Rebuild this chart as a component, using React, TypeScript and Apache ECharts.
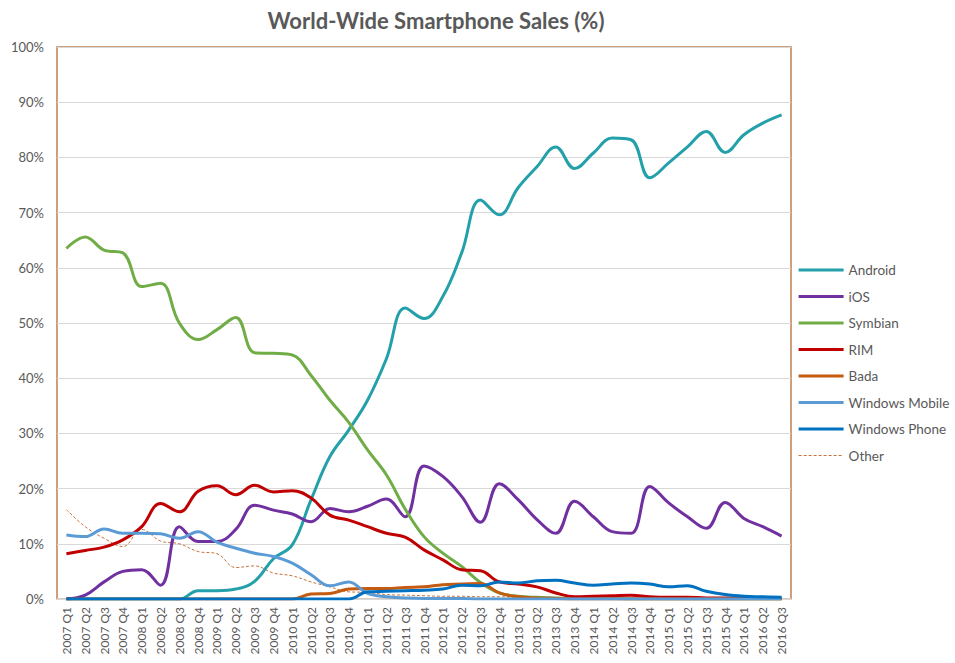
import React, { useEffect, useRef } from "react";
import * as echarts from "echarts";

const categories = [
  "2007 Q1", "2007 Q2", "2007 Q3", "2007 Q4",
  "2008 Q1", "2008 Q2", "2008 Q3", "2008 Q4",
  "2009 Q1", "2009 Q2", "2009 Q3", "2009 Q4",
  "2010 Q1", "2010 Q2", "2010 Q3", "2010 Q4",
  "2011 Q1", "2011 Q2", "2011 Q3", "2011 Q4",
  "2012 Q1", "2012 Q2", "2012 Q3", "2012 Q4",
  "2013 Q1", "2013 Q2", "2013 Q3", "2013 Q4",
  "2014 Q1", "2014 Q2", "2014 Q3", "2014 Q4",
  "2015 Q1", "2015 Q2", "2015 Q3", "2015 Q4",
  "2016 Q1", "2016 Q2", "2016 Q3",
];

const android = [0, 0, 0, 0, 0, 0, 0, 1.5, 1.5, 1.8, 3.2, 7.3, 9.8, 18, 25.8, 30.6, 36, 43.5, 52.7, 50.8, 54.8, 62.7, 72.3, 69.6, 74.5, 78.3, 81.9, 78, 80.8, 83.5, 83.2, 76.3, 79, 81.9, 84.7, 80.9, 84.1, 86.2, 87.7];
const ios = [0, 0.7, 3.1, 5, 5.3, 2.5, 13.1, 10.4, 10.4, 12.6, 17, 16.1, 15.4, 14, 16.4, 15.8, 16.8, 18.1, 14.9, 24.1, 22.2, 18.6, 13.9, 20.9, 18, 14.4, 11.9, 17.7, 14.9, 12.2, 11.9, 20.4, 17.4, 14.9, 12.8, 17.5, 14.6, 13.1, 11.4];
const symbian = [63.5, 65.6, 63.2, 62.7, 56.6, 57.2, 50, 47, 48.8, 51, 44.6, 44.5, 44.2, 40.5, 36, 32, 27, 22.5, 16.3, 11.3, 8.3, 5.9, 3, 1.1, 0.5, 0.3, 0.2, 0.1, 0.1, 0.1, 0, 0, 0, 0, 0, 0, 0, 0, 0];
const rim = [8.2, 8.8, 9.4, 10.7, 13.1, 17.3, 15.8, 19.5, 20.5, 18.9, 20.6, 19.4, 19.6, 18.3, 15.2, 14.3, 13.1, 11.9, 11.2, 8.9, 7.1, 5.3, 5.1, 3.1, 2.7, 2.2, 1.1, 0.4, 0.5, 0.6, 0.7, 0.4, 0.3, 0.3, 0.2, 0.2, 0.2, 0.1, 0.1];
const bada = [0, 0, 0, 0, 0, 0, 0, 0, 0, 0, 0, 0, 0, 0.9, 1, 1.8, 1.9, 1.9, 2.1, 2.2, 2.6, 2.7, 2.8, 1.1, 0.4, 0.2, 0.1, 0, 0, 0, 0, 0, 0, 0, 0, 0, 0, 0, 0];
const windowsMobile = [11.6, 11.3, 12.7, 11.9, 11.9, 11.8, 11, 12.2, 10.3, 9.2, 8.3, 7.7, 6.5, 4.4, 2.4, 3.1, 1, 0.4, 0.2, 0.1, 0.1, 0.1, 0, 0, 0, 0, 0, 0, 0, 0, 0, 0, 0, 0, 0, 0, 0, 0, 0];
const windowsPhone = [0, 0, 0, 0, 0, 0, 0, 0, 0, 0, 0, 0, 0, 0, 0, 0, 1.3, 1.4, 1.5, 1.6, 1.8, 2.5, 2.4, 3.1, 2.9, 3.3, 3.4, 2.9, 2.5, 2.7, 2.9, 2.7, 2.2, 2.4, 1.4, 0.8, 0.5, 0.4, 0.3];
const other = [16.2, 13.1, 11, 9.5, 12.6, 10.5, 10, 8.6, 8.2, 5.7, 6, 4.7, 4.2, 3.1, 2.2, 1.3, 1.2, 0.8, 0.7, 0.6, 0.5, 0.5, 0.4, 0.4, 0.3, 0.3, 0.3, 0.2, 0.2, 0.2, 0.2, 0.2, 0.2, 0.1, 0.1, 0.1, 0.1, 0.1, 0.1];

const otherColor = "#C8733A";
const seriesDefs = [
  { name: "Android", data: android, color: "#23A0AA" },
  { name: "iOS", data: ios, color: "#7030A0" },
  { name: "Symbian", data: symbian, color: "#70AD47" },
  { name: "RIM", data: rim, color: "#C00000" },
  { name: "Bada", data: bada, color: "#C55A11" },
  { name: "Windows Mobile", data: windowsMobile, color: "#5B9BD5" },
  { name: "Windows Phone", data: windowsPhone, color: "#0070C0" },
];

export default function App() {
  const ref = useRef<HTMLDivElement>(null);
  useEffect(() => {
    if (!ref.current) return;
    const chart = echarts.init(ref.current, null, { renderer: "svg" });
    const textColor = "#595959";
    const font = "Lato, 'Open Sans', sans-serif";
    chart.setOption({
      animation: false,
      backgroundColor: "#ffffff",
      title: {
        text: "World-Wide Smartphone Sales (%)",
        left: 431,
        top: 4,
        textAlign: "center",
        textStyle: { fontFamily: font, fontSize: 22, fontWeight: "bold", color: textColor },
      },
      grid: {
        left: 57,
        top: 47,
        width: 734,
        height: 552,
        show: true,
        borderColor: "#C08050",
        borderWidth: 1.5,
        backgroundColor: "transparent",
      },
      legend: {
        orient: "vertical",
        left: 797,
        top: 263,
        padding: 0,
        itemWidth: 45,
        itemHeight: 14,
        itemGap: 12.5,
        itemStyle: { opacity: 0 },
        textStyle: { fontFamily: font, fontSize: 13.5, color: textColor },
        data: [
          ...seriesDefs.map((s) => ({ name: s.name, lineStyle: { width: 3.2, color: s.color } })),
          { name: "Other", lineStyle: { width: 1, color: otherColor, type: [3, 2] } },
        ],
      },
      xAxis: {
        type: "category",
        data: categories,
        boundaryGap: true,
        axisTick: { show: false },
        axisLine: { show: true, lineStyle: { color: "#D9D9D9", width: 1.5 } },
        axisLabel: {
          rotate: 90,
          interval: 0,
          fontFamily: font,
          fontSize: 12,
          color: textColor,
          margin: 8,
        },
      },
      yAxis: {
        type: "value",
        min: 0,
        max: 100,
        interval: 10,
        axisLine: { show: false },
        axisTick: { show: false },
        axisLabel: {
          formatter: "{value}%",
          fontFamily: font,
          fontSize: 13,
          color: textColor,
          margin: 13,
        },
        splitLine: { lineStyle: { color: "#D9D9D9", width: 1.2 } },
      },
      series: [
        ...seriesDefs.map((s) => ({
          name: s.name,
          type: "line",
          data: s.data,
          smooth: 0.4,
          symbol: "none",
          color: s.color,
          lineStyle: { color: s.color, width: 3 },
        })),
        {
          name: "Other",
          type: "line",
          data: other,
          smooth: 0.4,
          symbol: "none",
          color: otherColor,
          lineStyle: { color: otherColor, width: 1, type: [3, 2] },
          z: 1,
        },
      ],
    });
    return () => chart.dispose();
  }, []);
  return (
    <div
      ref={ref}
      style={{ position: "fixed", left: 0, top: 0, width: 955, height: 663 }}
    />
  );
}
